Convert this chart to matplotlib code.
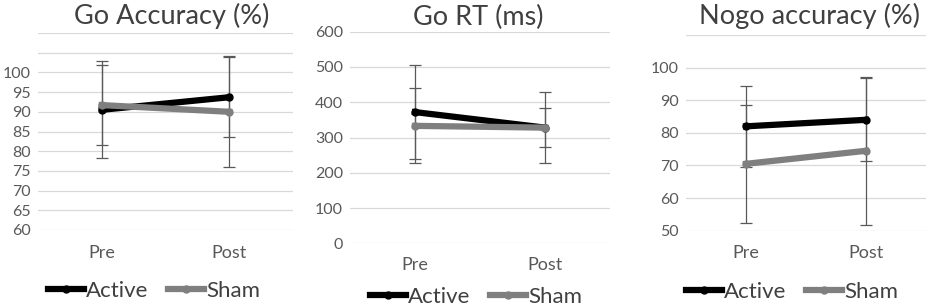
import matplotlib.pyplot as plt
import numpy as np

plt.rcParams['font.family'] = ['Lato', 'DejaVu Sans']

conditions = ['Pre', 'Post']
groups = ['Active', 'Sham']

titles = ['Go Accuracy (%)', 'Go RT (ms)', 'Nogo accuracy (%)']

go_acc_mean = {'Active': [90.5, 93.7], 'Sham': [91.7, 90.0]}
go_acc_err = {'Active': [12.3, 10.2], 'Sham': [10.1, 14.1]}

go_rt_mean = {'Active': [372, 328], 'Sham': [333, 328]}
go_rt_err = {'Active': [134, 100], 'Sham': [106, 55]}

nogo_acc_mean = {'Active': [82.0, 84.0], 'Sham': [70.5, 74.5]}
nogo_acc_err = {'Active': [12.4, 12.7], 'Sham': [18.0, 22.7]}

W, H = 930, 308
fig = plt.figure(figsize=(W / 100, H / 100), dpi=100)

colors = {'Active': '#000000', 'Sham': '#7f7f7f'}


def px_axes(l, r, t, b):
    return fig.add_axes([l / W, 1 - b / H, (r - l) / W, (b - t) / H])


panels = [
    # axes box px, data, ylim, ticks, labelled ticks, title x/y, xlabel y, legend y
    dict(box=(38, 293, 33, 230), mean=go_acc_mean, err=go_acc_err,
         ylim=(60, 110), ticks=np.arange(60, 111, 5), labmax=100,
         title=(172, 16), xlab=253, leg=(154, 291)),
    dict(box=(350, 610, 31.7, 243.3), mean=go_rt_mean, err=go_rt_err,
         ylim=(0, 600), ticks=np.arange(0, 601, 100), labmax=600,
         title=(478, 17), xlab=265, leg=(476, 297)),
    dict(box=(686, 926, 35, 230.7), mean=nogo_acc_mean, err=nogo_acc_err,
         ylim=(50, 110), ticks=np.arange(50, 111, 10), labmax=100,
         title=(809, 16), xlab=253, leg=(792, 292)),
]

x = np.arange(len(conditions))

for p, title in zip(panels, titles):
    ax = px_axes(*p['box'])
    for g in groups:
        ax.errorbar(x, p['mean'][g], yerr=p['err'][g], color=colors[g],
                    lw=4.5, marker='o', ms=5, ecolor='#595959', elinewidth=0.9,
                    capsize=4, capthick=0.9, label=g, zorder=3)
    ax.set_xlim(-0.5, 1.5)
    ax.set_ylim(*p['ylim'])
    ax.set_yticks(p['ticks'])
    ax.set_yticklabels([str(int(t)) if t <= p['labmax'] else '' for t in p['ticks']])
    ax.set_xticks(x)
    ax.set_xticklabels([])
    ax.grid(axis='y', color='#d9d9d9', lw=0.9)
    ax.set_axisbelow(True)
    for s in ax.spines.values():
        s.set_visible(False)
    ax.tick_params(axis='y', length=0, pad=5, labelsize=11.5, labelcolor='#595959')
    ax.tick_params(axis='x', length=0)
    # category labels
    l, r, t, b = p['box']
    for xi, c in zip(x, conditions):
        xp = l + (xi + 0.5) / 2 * (r - l)
        fig.text(xp / W, 1 - p['xlab'] / H, c, ha='center', va='center',
                 fontsize=13, color='#595959')
    fig.text(p['title'][0] / W, 1 - p['title'][1] / H, title, ha='center',
             va='center', fontsize=19.5, color='#404040')
    handles, labels = ax.get_legend_handles_labels()
    handles = [h[0] for h in handles]
    fig.legend(handles, labels, loc='center',
               bbox_to_anchor=(p['leg'][0] / W, 1 - p['leg'][1] / H),
               ncol=2, frameon=False, fontsize=16, handlelength=1.6,
               handletextpad=0.1, columnspacing=0.9, labelcolor='#404040')

fig.savefig('out.png', dpi=100)
